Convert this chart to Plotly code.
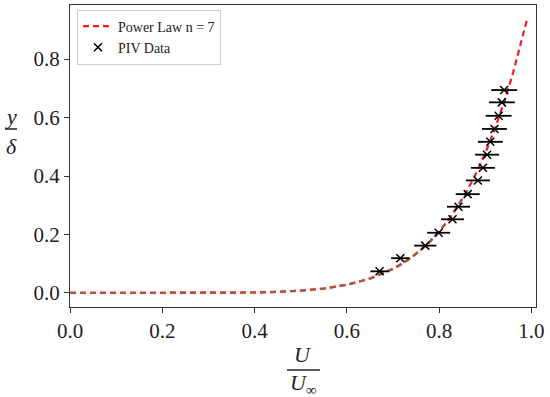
import plotly.graph_objects as go

# Power law n = 7 curve
law_x = [0.0, 0.1, 0.2, 0.3, 0.4, 0.45, 0.5, 0.55, 0.6, 0.65, 0.7, 0.72, 0.74, 0.76, 0.78,
         0.80, 0.82, 0.84, 0.86, 0.88, 0.90, 0.92, 0.94, 0.96, 0.98, 0.99]
law_y = [0.0, 0.0, 0.00001, 0.0002, 0.0016, 0.0037, 0.0078, 0.0152, 0.0280, 0.0490, 0.0824,
         0.1003, 0.1215, 0.1465, 0.1757, 0.2097, 0.2493, 0.2951, 0.3479, 0.4087, 0.4783,
         0.5578, 0.6485, 0.7514, 0.8681, 0.9321]
band_hw = 0.008

# PIV data
piv_x = [0.671, 0.716, 0.770, 0.799, 0.829, 0.842, 0.862, 0.884, 0.895, 0.904, 0.911,
         0.920, 0.929, 0.936, 0.941]
piv_y = [0.074, 0.119, 0.162, 0.206, 0.252, 0.295, 0.338, 0.385, 0.428, 0.473, 0.517,
         0.561, 0.606, 0.652, 0.694]
piv_err = [0.020, 0.020, 0.024, 0.025, 0.025, 0.025, 0.026, 0.026, 0.026, 0.026, 0.027,
           0.027, 0.028, 0.028, 0.028]

brown_n = 19  # portion of curve appearing brownish (overlap)

fig = go.Figure()
fig.add_trace(go.Scatter(x=law_x, y=[v + band_hw for v in law_y], mode="lines",
                         line=dict(width=0), showlegend=False, hoverinfo="skip"))
fig.add_trace(go.Scatter(x=law_x, y=[v - band_hw for v in law_y], mode="lines",
                         line=dict(width=0), fill="tonexty",
                         fillcolor="rgba(255,120,220,0.12)", showlegend=False, hoverinfo="skip"))
fig.add_trace(go.Scatter(x=law_x, y=law_y, mode="lines", name="Power Law n = 7",
                         line=dict(color="#ee1c25", width=2.2, dash="6px,4px")))
fig.add_trace(go.Scatter(x=law_x[:brown_n], y=law_y[:brown_n], mode="lines", showlegend=False,
                         line=dict(color="#9a5f35", width=2.2, dash="6px,4px")))
fig.add_trace(go.Scatter(x=piv_x, y=piv_y, mode="markers", name="PIV Data",
                         marker=dict(symbol="x-thin", size=8, line=dict(color="black", width=1.5),
                                     color="black"),
                         error_x=dict(type="data", array=piv_err, color="black",
                                      thickness=1.8, width=0)))

font = "Liberation Serif, Times New Roman, serif"
axis_common = dict(showline=True, linecolor="#333", linewidth=1, mirror=True,
                   ticks="outside", ticklen=5, tickcolor="#333", showgrid=False,
                   zeroline=False, automargin=False,
                   tickfont=dict(family=font, size=21, color="#222"))
fig.update_xaxes(range=[0, 1.01], tickvals=[0, 0.2, 0.4, 0.6, 0.8, 1.0],
                 ticktext=["0.0", "0.2", "0.4", "0.6", "0.8", "1.0"], **axis_common)
fig.update_yaxes(range=[-0.048, 0.985], tickvals=[0, 0.2, 0.4, 0.6, 0.8],
                 ticktext=["0.0", "0.2", "0.4", "0.6", "0.8"], **axis_common)

L, R, T, B = 70, 14, 5, 90
PW, PH = 550 - L - R, 397 - T - B

def px_x(x):
    return (x - L) / PW

def px_y(y):
    return (397 - B - y) / PH

lab = dict(family=font, size=22, color="#222")
label_pos = [
    (303, 354, "<i>U</i>"),
    (303, 384, "<i>U</i><sub>∞</sub>"),
    (11, 116, "<i>y</i>"),
    (11, 146, "<i>δ</i>"),
]
annotations = [dict(x=px_x(x), y=px_y(y), xref="paper", yref="paper", text=t,
                    showarrow=False, font=lab, xanchor="center", yanchor="middle")
               for x, y, t in label_pos]

def bar(x0, x1, y):
    return dict(type="line", xref="paper", yref="paper",
                x0=px_x(x0), x1=px_x(x1), y0=px_y(y), y1=px_y(y),
                line=dict(color="#222", width=1.5))

fig.update_layout(
    width=550, height=397,
    margin=dict(l=L, r=R, t=T, b=B, autoexpand=False),
    plot_bgcolor="white", paper_bgcolor="white",
    font=dict(family=font),
    annotations=annotations,
    shapes=[bar(287, 320, 370), bar(5, 17, 129)],
    legend=dict(x=0.015, y=0.985, xanchor="left", yanchor="top", traceorder="normal",
                bgcolor="rgba(255,255,255,0.9)", bordercolor="#ccc", borderwidth=1,
                font=dict(family=font, size=14, color="#222"), tracegroupgap=0,
                itemwidth=30),
)

fig.write_html("out.html", config={"displayModeBar": False},
               post_script="document.body.style.margin='0';")
